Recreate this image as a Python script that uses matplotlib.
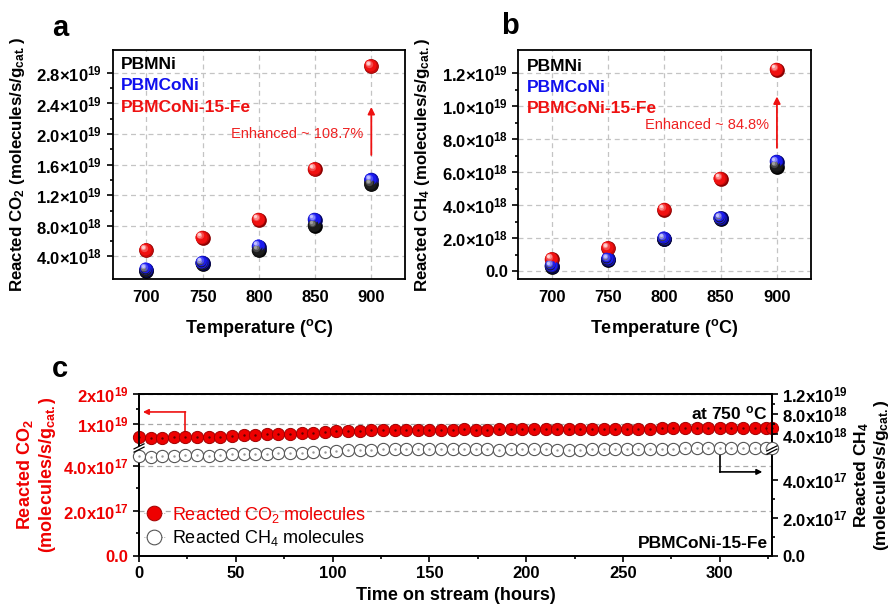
import numpy as np
import matplotlib
matplotlib.use("Agg")
import matplotlib.pyplot as plt
from matplotlib import transforms

plt.rcParams['font.family'] = ['Liberation Sans', 'DejaVu Sans']
plt.rcParams['mathtext.default'] = 'regular'
plt.rcParams['axes.linewidth'] = 1.3

# ---------------- data ----------------
temps = [700, 750, 800, 850, 900]
series_names = ["PBMNi", "PBMCoNi", "PBMCoNi-15-Fe"]

co2_pbmni = [2.1e18, 3.0e18, 4.8e18, 8.0e18, 1.344e19]
co2_pbmconi = [2.27e18, 3.14e18, 5.27e18, 8.79e18, 1.397e19]
co2_fe = [4.78e18, 6.4e18, 8.79e18, 1.54e19, 2.887e19]

ch4_pbmni = [0.27e18, 0.67e18, 1.92e18, 3.16e18, 6.33e18]
ch4_pbmconi = [0.30e18, 0.71e18, 1.96e18, 3.20e18, 6.60e18]
ch4_fe = [0.71e18, 1.38e18, 3.70e18, 5.59e18, 1.219e19]

a_yticks = [4e18, 8e18, 1.2e19, 1.6e19, 2.0e19, 2.4e19, 2.8e19]
a_ylabels = ["4.0×10$^{18}$", "8.0×10$^{18}$", "1.2×10$^{19}$", "1.6×10$^{19}$",
             "2.0×10$^{19}$", "2.4×10$^{19}$", "2.8×10$^{19}$"]
b_yticks = [0, 2e18, 4e18, 6e18, 8e18, 1.0e19, 1.2e19]
b_ylabels = ["0.0", "2.0×10$^{18}$", "4.0×10$^{18}$", "6.0×10$^{18}$", "8.0×10$^{18}$",
             "1.0×10$^{19}$", "1.2×10$^{19}$"]

hours = [0, 6, 12, 18, 24, 30, 36, 42, 48, 54, 60, 66, 72, 78, 84, 90, 96, 102, 108,
         114, 120, 126, 132, 138, 144, 150, 156, 162, 168, 174, 180, 186, 192, 198,
         204, 210, 216, 222, 228, 234, 240, 246, 252, 258, 264, 270, 276, 282, 288,
         294, 300, 306, 312, 318, 324, 327]
co2_stream = [5.9, 5.5, 5.6, 5.8, 6.0, 5.9, 5.7, 5.9, 6.1, 6.4, 6.6, 6.7, 6.8, 7.0, 7.1,
              7.3, 7.6, 7.8, 7.7, 7.8, 8.0, 8.1, 8.2, 8.2, 8.2, 8.3, 8.3, 8.3, 8.4, 8.3,
              8.3, 8.4, 8.4, 8.4, 8.5, 8.4, 8.5, 8.5, 8.5, 8.6, 8.6, 8.6, 8.6, 8.6, 8.6,
              8.7, 8.7, 8.7, 8.7, 8.7, 8.7, 8.8, 8.8, 8.8, 8.8, 8.8]  # x1e18
ch4_stream = [5.29, 5.24, 5.27, 5.29, 5.32, 5.31, 5.29, 5.34, 5.36, 5.38, 5.40, 5.40,
              5.42, 5.43, 5.45, 5.47, 5.50, 5.55, 5.58, 5.60, 5.60, 5.62, 5.63, 5.62,
              5.64, 5.63, 5.62, 5.64, 5.65, 5.63, 5.64, 5.60, 5.62, 5.64, 5.66, 5.65,
              5.58, 5.59, 5.61, 5.63, 5.65, 5.66, 5.66, 5.65, 5.66, 5.66, 5.66, 5.67,
              5.67, 5.68, 5.67, 5.68, 5.68, 5.69, 5.69, 5.69]  # x1e17

c_left_ticks = [0, 2e17, 4e17, 1e19, 2e19]
c_left_labels = ["0.0", "2.0x10$^{17}$", "4.0x10$^{17}$", "1x10$^{19}$", "2x10$^{19}$"]
c_right_ticks = [0, 2e17, 4e17, 4e18, 8e18, 1.2e19]
c_right_labels = ["0.0", "2.0x10$^{17}$", "4.0x10$^{17}$", "4.0x10$^{18}$",
                  "8.0x10$^{18}$", "1.2x10$^{19}$"]

# ---------------- figure ----------------
fig = plt.figure(figsize=(8.89, 6.05), dpi=100)

RED = '#f01010'
BLUE = '#1a1af0'
BLACK = '#000000'
GRID = '#c4c4c4'


def mix(c1, c2, t):
    a = np.array(matplotlib.colors.to_rgb(c1))
    b = np.array(matplotlib.colors.to_rgb(c2))
    return tuple(a * (1 - t) + b * t)


def sphere(ax, x, y, dark, base, light, size=10.6, z=3):
    layers = [(1.00, 0.0, mix(dark, base, 0.0)),
              (0.92, 0.5, mix(dark, base, 0.6)),
              (0.82, 0.9, base),
              (0.66, 1.4, base),
              (0.50, 1.9, mix(base, light, 0.3)),
              (0.36, 2.3, mix(base, light, 0.65)),
              (0.22, 2.6, light)]
    for i, (sf, off, col) in enumerate(layers):
        tr = ax.transData + transforms.ScaledTranslation(-off / 72, off / 72,
                                                         fig.dpi_scale_trans)
        ax.scatter(x, y, s=(size * sf) ** 2, color=col, lw=0, transform=tr,
                   zorder=z + i * 0.01, clip_on=False)


def style_top(ax):
    ax.set_xlim(670, 930)
    ax.set_xticks(temps)
    ax.tick_params(axis='both', which='both', direction='out', labelsize=12, width=1.2)
    ax.tick_params(axis='both', which='major', length=4)
    ax.tick_params(axis='y', which='minor', length=2.5)
    ax.tick_params(axis='x', which='major', length=0, pad=8)
    for lab in ax.get_xticklabels() + ax.get_yticklabels():
        lab.set_fontweight('bold')
    ax.grid(True, which='major', color=GRID, ls=(0, (4, 3)), lw=0.9)
    ax.set_axisbelow(True)
    ax.set_xlabel("Temperature ($^{o}$C)", fontsize=13, fontweight='bold', labelpad=8)


# ---- panel a ----
axa = fig.add_axes([0.1268, 0.5383, 0.3288, 0.3791])
axa.set_ylim(1.0e18, 3.1e19)
axa.set_yticks(a_yticks, a_ylabels)
axa.set_yticks(np.array(a_yticks[:-1]) + 2e18, minor=True)
style_top(axa)
sphere(axa, temps, co2_pbmni, '#000000', '#1c1c1c', '#a0a0a0')
sphere(axa, temps, co2_pbmconi, '#00005a', BLUE, '#c0c0ff')
sphere(axa, temps, co2_fe, '#8a0000', RED, '#ffd0d0')
axa.set_ylabel("Reacted CO$_2$ (molecules/s/g$_{cat.}$)", fontsize=12.2, fontweight='bold',
               labelpad=7)
axa.annotate('', xy=(900, 2.39e19), xytext=(900, 1.69e19),
             arrowprops=dict(arrowstyle='-|>', color='#ee1111', lw=1.3, mutation_scale=10))
axa.text(893, 2.0e19, "Enhanced ~ 108.7%", color='#ee2222', fontsize=10.5, ha='right',
         va='center')
for i, (nm, col) in enumerate(zip(series_names, [BLACK, '#1010ee', '#ee1111'])):
    axa.text(0.028, 0.935 - i * 0.092, nm, color=col, fontsize=12.5, fontweight='bold',
             transform=axa.transAxes, va='center')
fig.text(60 / 889, 1 - 28 / 605, "a", fontsize=21, fontweight='bold', ha='center', va='center')

# ---- panel b ----
axb = fig.add_axes([0.583, 0.5383, 0.3289, 0.3791])
axb.set_ylim(-0.5e18, 1.34e19)
axb.set_yticks(b_yticks, b_ylabels)
axb.set_yticks(np.array(b_yticks[:-1]) + 1e18, minor=True)
style_top(axb)
sphere(axb, temps, ch4_pbmni, '#000000', '#1c1c1c', '#a0a0a0')
sphere(axb, temps, ch4_pbmconi, '#00005a', BLUE, '#c0c0ff')
sphere(axb, temps, ch4_fe, '#8a0000', RED, '#ffd0d0')
axb.set_ylabel("Reacted CH$_4$ (molecules/s/g$_{cat.}$)", fontsize=12.2, fontweight='bold',
               labelpad=7)
axb.annotate('', xy=(900, 1.075e19), xytext=(900, 7.3e18),
             arrowprops=dict(arrowstyle='-|>', color='#ee1111', lw=1.3, mutation_scale=10))
axb.text(893, 8.85e18, "Enhanced ~ 84.8%", color='#ee2222', fontsize=10.5, ha='right',
         va='center')
for i, (nm, col) in enumerate(zip(series_names, [BLACK, '#1010ee', '#ee1111'])):
    axb.text(0.028, 0.93 - i * 0.092, nm, color=col, fontsize=12.5, fontweight='bold',
             transform=axb.transAxes, va='center')
fig.text(510 / 889, 1 - 26 / 605, "b", fontsize=21, fontweight='bold', ha='center', va='center')


# ---- panel c (broken axes) ----
def broken(lb, ub, top, f1):
    def fwd(v):
        v = np.asarray(v, float)
        return np.where(v <= lb, v / lb * f1,
                        np.where(v < ub, f1, f1 + (v - ub) / (top - ub) * (1 - f1)))

    def inv(f):
        f = np.asarray(f, float)
        return np.where(f <= f1, f / f1 * lb, ub + (f - f1) / (1 - f1) * (top - ub))
    return fwd, inv


axc = fig.add_axes([0.1564, 0.081, 0.712, 0.2678])
axr = axc.twinx()
axc.set_yscale('function', functions=broken(4.8e17, 2.26e18, 2e19, 0.667))
axr.set_yscale('function', functions=broken(5.8e17, 1.73e18, 1.2e19, 0.679))
axc.set_ylim(0, 2e19)
axr.set_ylim(0, 1.2e19)
axc.set_xlim(0, 327)
axc.set_xticks([0, 50, 100, 150, 200, 250, 300])
axc.set_xticks([25, 75, 125, 175, 225, 275, 325], minor=True)
axc.set_yticks(c_left_ticks, c_left_labels)
axc.set_yticks([1e17, 3e17, 1.5e19], minor=True)
axr.set_yticks(c_right_ticks, c_right_labels)
axr.set_yticks([1e17, 3e17, 6e18, 1e19], minor=True)
for ax in (axc, axr):
    ax.tick_params(axis='both', which='both', direction='out', labelsize=12, width=1.2)
    ax.tick_params(axis='both', which='major', length=4)
    ax.tick_params(axis='both', which='minor', length=2.5)
axc.tick_params(axis='y', colors='black', labelcolor='#ee0000')
for lab in axc.get_xticklabels() + axc.get_yticklabels() + axr.get_yticklabels():
    lab.set_fontweight('bold')
axc.yaxis.grid(True, which='major', color='#a8a8a8', ls=(0, (4, 3)), lw=0.9)
axc.set_axisbelow(True)

co2_vals = np.array(co2_stream) * 1e18
ch4_vals = np.array(ch4_stream) * 1e17
l1, = axc.plot(hours, co2_vals, ls=':', color='#888888', lw=0.6, marker='o', ms=8.8,
               mfc='#ee0000', mec='#a00000', mew=0.7, clip_on=False, zorder=4)
axc.plot(hours, co2_vals, ls='none', marker='.', ms=1.5, color='#600000', clip_on=False,
         zorder=5)
l2, = axr.plot(hours, ch4_vals, ls=':', color='#888888', lw=0.6, marker='o', ms=8.8,
               mfc='white', mec='#555555', mew=0.8, clip_on=False, zorder=4)
axr.plot(hours, ch4_vals, ls='none', marker='.', ms=1.5, color='#999999', clip_on=False,
         zorder=5)

# arrows pointing to axes
xl = axc.get_xaxis_transform()
axc.plot([24, 24], [0.74, 0.889], color='#ee1111', lw=1.2, transform=xl, zorder=3)
axc.annotate('', xy=(2, 0.889), xytext=(24, 0.889), xycoords=xl, textcoords=xl,
             arrowprops=dict(arrowstyle='-|>', color='#ee1111', lw=1.2, mutation_scale=8,
                             shrinkA=0, shrinkB=0))
axc.plot([300, 300], [0.65, 0.519], color='black', lw=1.2, transform=xl, zorder=3)
axc.annotate('', xy=(322, 0.519), xytext=(300, 0.519), xycoords=xl, textcoords=xl,
             arrowprops=dict(arrowstyle='-|>', color='black', lw=1.2, mutation_scale=8,
                             shrinkA=0, shrinkB=0))


def break_mark(ax, xf, yf):
    W = ax.bbox.width
    H = ax.bbox.height
    dx, dy, g = 5 / W, 2.5 / H, 1.6 / H
    ax.fill([xf - dx, xf + dx, xf + dx, xf - dx],
            [yf - dy - g, yf + dy - g, yf + dy + g, yf - dy + g], color='white',
            transform=ax.transAxes, clip_on=False, zorder=6, lw=0)
    for s in (-g, g):
        ax.plot([xf - dx, xf + dx], [yf - dy + s, yf + dy + s], color='black', lw=0.9,
                transform=ax.transAxes, clip_on=False, zorder=7)


break_mark(axr, 0.0, (556 - 448) / 162)
break_mark(axr, 1.0, (556 - 450) / 162)

axc.text(0.993, 0.88, "at 750 $^{o}$C", transform=axc.transAxes, ha='right', va='center',
         fontsize=12.5, fontweight='bold', zorder=8)
axc.text(0.993, 0.08, "PBMCoNi-15-Fe", transform=axc.transAxes, ha='right', va='center',
         fontsize=12.5, fontweight='bold')

leg = axc.legend([l1, l2], ["Reacted CO$_2$ molecules", "Reacted CH$_4$ molecules"],
                 loc='lower left', bbox_to_anchor=(-0.01, -0.02), frameon=False,
                 fontsize=13, handlelength=1.2, handletextpad=0.4, labelspacing=0.2,
                 markerscale=1.2, borderaxespad=0.2, prop={'size': 13, 'weight': 'medium'})
leg.get_texts()[0].set_color('#ee0000')
leg.set_zorder(9)

axc.set_xlabel("Time on stream (hours)", fontsize=13, fontweight='bold', labelpad=4)
axc.set_ylabel("Reacted CO$_2$\n(molecules/s/g$_{cat.}$)", color='#ee0000', fontsize=13,
               fontweight='bold', labelpad=4, linespacing=1.1)
axr.set_ylabel("Reacted CH$_4$\n(molecules/s/g$_{cat.}$)", color='black', fontsize=12.5,
               fontweight='bold', labelpad=3, linespacing=1.05)
fig.text(60 / 889, 1 - 369 / 605, "c", fontsize=21, fontweight='bold', ha='center',
         va='center')

fig.savefig("out.png", dpi=100)
